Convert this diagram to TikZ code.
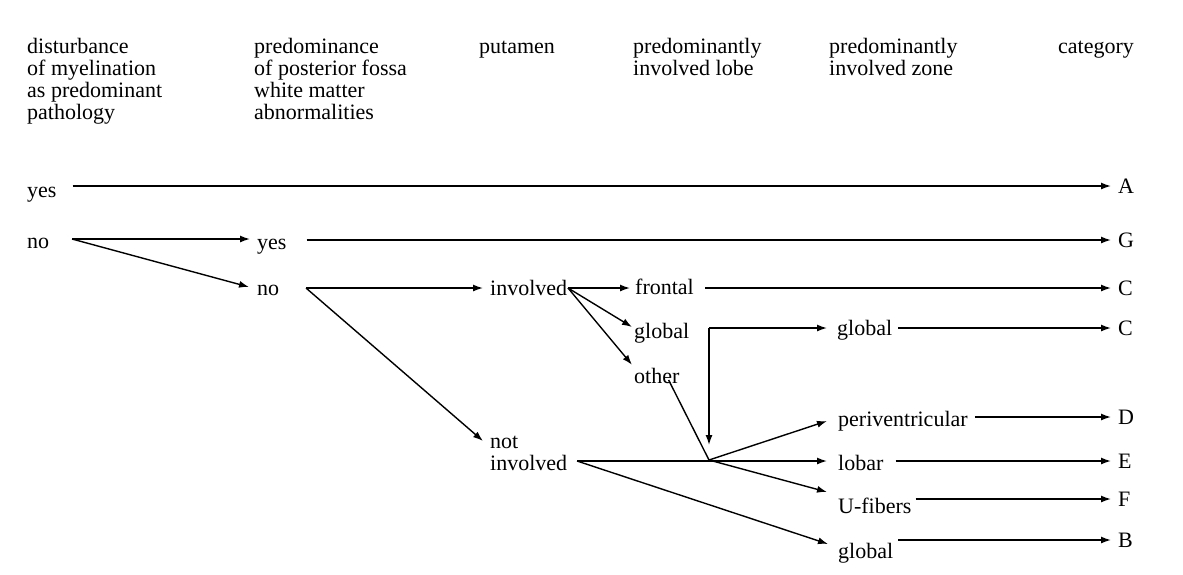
\documentclass[tikz,border=0pt]{standalone}
\usepackage{fontspec}
\setmainfont{Liberation Serif}
\usetikzlibrary{arrows.meta}
\begin{document}
\begin{tikzpicture}[x=1pt,y=-1pt,
  txt/.style={inner sep=0pt, font=\fontsize{22}{22}\selectfont},
  lbl/.style={txt, anchor=west, text height=15pt, text depth=5pt},
  hdr/.style={txt, anchor=base west, align=left},
  cat/.style={txt, anchor=west, text height=14.5pt, text depth=0pt},
  ln/.style={line width=1.4pt},
  arr/.style={ln, -{Latex[length=10pt,width=7pt]}}]
\useasboundingbox (0,0) rectangle (1183,574);
% headers (anchor = baseline of the last line)
\node[hdr] (h1) at (27,119) {disturbance\\of myelination\\as predominant\\pathology};
\node[hdr] (h2) at (254,119) {predominance\\of posterior fossa\\white matter\\abnormalities};
\node[hdr] (h3) at (479,53) {putamen};
\node[hdr] (h4) at (633,75) {predominantly\\involved lobe};
\node[hdr] (h5) at (829,75) {predominantly\\involved zone};
\node[hdr] (h6) at (1058,53) {category};
% labels
\node[lbl] (yes1) at (27,192) {yes};
\node[lbl] (no1) at (27,243) {no};
\node[lbl] (yes2) at (257,244) {yes};
\node[lbl] (no2) at (257,290) {no};
\node[lbl] (inv) at (490,290) {involved};
\node[hdr] (notinv) at (490,470) {not\\involved};
\node[lbl] (frontal) at (635,289) {frontal};
\node[lbl] (globL) at (634,333) {global};
\node[lbl] (other) at (634,378) {other};
\node[lbl] (globZ) at (837,330) {global};
\node[lbl] (periv) at (838,421) {periventricular};
\node[lbl] (lobar) at (838,465) {lobar};
\node[lbl] (ufib) at (838,508) {U-fibers};
\node[lbl] (globB) at (838,553) {global};
% categories
\node[cat] (A) at (1118,186) {A};
\node[cat] (G) at (1118,240) {G};
\node[cat] (C1) at (1118,288) {C};
\node[cat] (C2) at (1118,328) {C};
\node[cat] (D) at (1118,417) {D};
\node[cat] (E) at (1118,461) {E};
\node[cat] (F) at (1118,499) {F};
\node[cat] (B) at (1118,540) {B};
% junctions
\coordinate (noJ) at (72,239);
\coordinate (no2J) at (306,288);
\coordinate (invJ) at (568,288);
\coordinate (NJ) at (577,461);
\coordinate (J) at (709,460);
\coordinate (V) at (709,328);
% connectors
\draw[arr] ([xshift=16pt]yes1.east |- A.west) -- ([xshift=-7pt]A.west);
\draw[arr] (noJ) -- ([xshift=-7pt]yes2.west |- noJ);
\draw[arr] (noJ) -- ([xshift=-8pt,yshift=3pt]no2.west);
\draw[arr] ([xshift=20pt]yes2.east |- G.west) -- ([xshift=-7pt]G.west);
\draw[arr] (no2J) -- ([xshift=-7pt]inv.west |- no2J);
\draw[arr] (no2J) -- ([xshift=-7pt,yshift=29pt]notinv.base west);
\draw[arr] (invJ) -- ([xshift=-5pt]frontal.west |- invJ);
\draw[arr] (invJ) -- ([xshift=-2pt,yshift=6pt]globL.west);
\draw[arr] (invJ) -- ([xshift=-2pt,yshift=3pt]other.north west);
\draw[ln] ([xshift=-11pt,yshift=-2pt]other.east) -- (J);
\draw[arr] (V) -- ([yshift=15pt]J);
\draw[arr] (V) -- ([xshift=-10pt]globZ.west |- V);
\draw[arr] (NJ) -- ([xshift=-11pt]lobar.west |- NJ);
\draw[arr] (J) -- ([xshift=-11pt]periv.west);
\draw[arr] (J) -- ([xshift=-11pt,yshift=16pt]ufib.west);
\draw[arr] (NJ) -- ([xshift=-10pt,yshift=9pt]globB.west);
\draw[arr] ([xshift=11pt]frontal.east |- C1.west) -- ([xshift=-7pt]C1.west);
\draw[arr] ([xshift=6pt]globZ.east |- C2.west) -- ([xshift=-7pt]C2.west);
\draw[arr] ([xshift=7pt]periv.east |- D.west) -- ([xshift=-7pt]D.west);
\draw[arr] ([xshift=12pt]lobar.east |- E.west) -- ([xshift=-7pt]E.west);
\draw[arr] ([xshift=4pt]ufib.east |- F.west) -- ([xshift=-7pt]F.west);
\draw[arr] ([xshift=5pt]globB.east |- B.west) -- ([xshift=-7pt]B.west);
\end{tikzpicture}
\end{document}
